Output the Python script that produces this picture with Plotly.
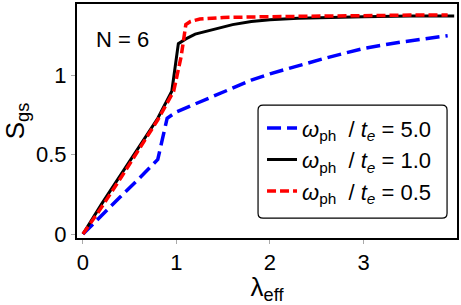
import plotly.graph_objects as go

# ---- data ----
blue_x = [0, 0.2, 0.4, 0.6, 0.8, 0.85, 0.9, 1.0, 1.2, 1.4, 1.6, 1.8, 2.0, 2.3, 2.6, 3.0, 3.4, 3.9]
blue_y = [0, 0.12, 0.235, 0.35, 0.47, 0.6, 0.73, 0.77, 0.82, 0.87, 0.92, 0.97, 1.01, 1.06, 1.11, 1.17, 1.21, 1.25]

black_x = [0, 0.2, 0.4, 0.6, 0.8, 0.95, 1.02, 1.1, 1.2, 1.4, 1.6, 1.8, 2.0, 2.3, 2.6, 3.0, 3.5, 3.97]
black_y = [0, 0.19, 0.37, 0.55, 0.73, 0.9, 1.2, 1.23, 1.26, 1.29, 1.32, 1.34, 1.35, 1.36, 1.365, 1.37, 1.375, 1.375]

red_x = [0, 0.2, 0.4, 0.6, 0.8, 0.97, 1.05, 1.1, 1.15, 1.25, 1.5, 2.0, 2.5, 3.0, 3.5, 3.9]
red_y = [0, 0.17, 0.35, 0.53, 0.72, 0.9, 1.12, 1.32, 1.34, 1.355, 1.365, 1.37, 1.375, 1.378, 1.38, 1.38]

names = ["<i>ω</i><sub>ph</sub>  / <i>t</i><sub><i>e</i></sub> = 5.0",
         "<i>ω</i><sub>ph</sub>  / <i>t</i><sub><i>e</i></sub> = 1.0",
         "<i>ω</i><sub>ph</sub>  / <i>t</i><sub><i>e</i></sub> = 0.5"]

x_ticks = [0, 1, 2, 3]
y_ticks = [0, 0.5, 1]
y_ticklabels = ["0", "0.5", "1"]

FONT = "Liberation Sans, Arial, sans-serif"
W, H = 461, 305
L, R, T, B = 77, 2, 2, 67
PW, PH = W - L - R, H - T - B

fig = go.Figure()
fig.add_trace(go.Scatter(x=blue_x, y=blue_y, mode="lines", name=names[0],
                         line=dict(color="#0000ff", width=3.5, dash="14px,6px")))
fig.add_trace(go.Scatter(x=black_x, y=black_y, mode="lines", name=names[1],
                         line=dict(color="#000000", width=3)))
fig.add_trace(go.Scatter(x=red_x, y=red_y, mode="lines", name=names[2],
                         line=dict(color="#ff0000", width=3.5, dash="9px,4px")))

def px2paper(px, py):
    return (px - L) / PW, (H - B - py) / PH

# rounded legend box
x0, y0 = px2paper(259, 218)
x1, y1 = px2paper(449, 104)
rx, ry = 5 / PW, 5 / PH
path = (f"M {x0+rx},{y0} L {x1-rx},{y0} Q {x1},{y0} {x1},{y0+ry} "
        f"L {x1},{y1-ry} Q {x1},{y1} {x1-rx},{y1} L {x0+rx},{y1} "
        f"Q {x0},{y1} {x0},{y1-ry} L {x0},{y0+ry} Q {x0},{y0} {x0+rx},{y0} Z")
fig.add_shape(type="path", path=path, xref="paper", yref="paper",
              line=dict(color="black", width=1.2), fillcolor="white", layer="below")

lx, ly = px2paper(263, 106)
ax, ay = px2paper(94, 38)

fig.update_layout(
    width=W, height=H,
    margin=dict(l=L, r=R, t=T, b=B),
    plot_bgcolor="white", paper_bgcolor="white",
    font=dict(family=FONT, size=22, color="black"),
    showlegend=True,
    legend=dict(x=lx, y=ly, xanchor="left", yanchor="top",
                bgcolor="rgba(0,0,0,0)", borderwidth=0,
                font=dict(family=FONT, size=22), tracegroupgap=0),
    xaxis=dict(range=[-0.064, 4.0], tickvals=x_ticks, ticktext=[str(v) for v in x_ticks],
               showgrid=False, zeroline=False, showline=True, linecolor="black", linewidth=2,
               mirror=True, ticks="outside", ticklen=4, tickcolor="#aaaaaa",
               tickfont=dict(size=22),
               title=dict(text="λ<sub>eff</sub>", font=dict(size=26), standoff=9)),
    yaxis=dict(range=[-0.025, 1.45], tickvals=y_ticks, ticktext=y_ticklabels,
               showgrid=False, zeroline=False, showline=True, linecolor="black", linewidth=2,
               mirror=True, ticks="outside", ticklen=4, tickcolor="#aaaaaa",
               tickfont=dict(size=22),
               title=dict(text="S<sub>gs</sub>", font=dict(size=26), standoff=8)),
    annotations=[dict(text="N = 6", x=ax, y=ay, xref="paper", yref="paper",
                      xanchor="left", yanchor="middle", showarrow=False,
                      font=dict(size=22))],
)

fig.write_html("out.html", config={"displayModeBar": False},
               post_script="document.body.style.margin='0';document.body.style.overflow='hidden';")
